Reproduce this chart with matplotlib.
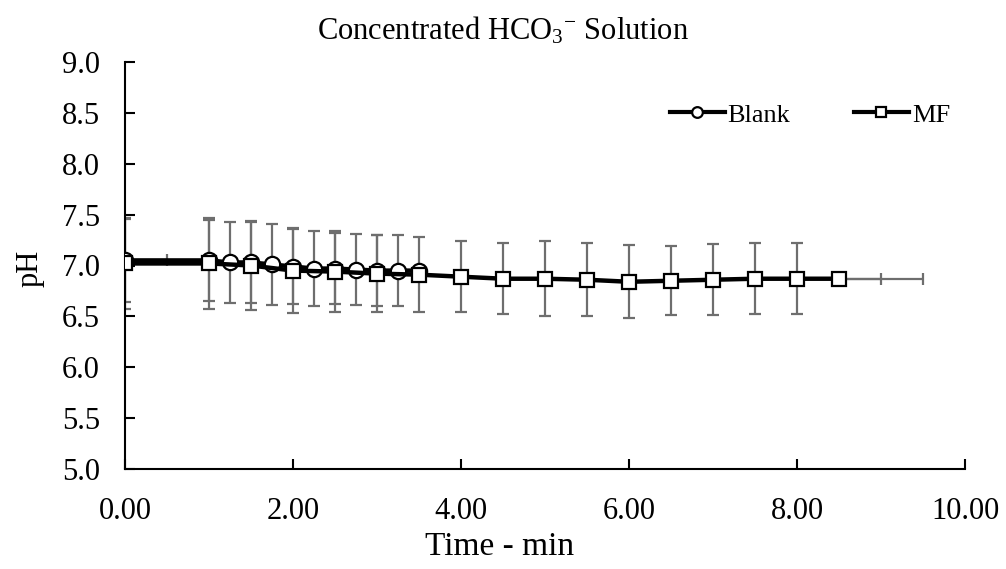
import matplotlib
matplotlib.use("Agg")
import matplotlib.pyplot as plt
import numpy as np

plt.rcParams['font.family'] = ['Liberation Serif', 'DejaVu Serif']
plt.rcParams['mathtext.fontset'] = 'custom'
plt.rcParams['mathtext.rm'] = 'Liberation Serif'
plt.rcParams['mathtext.it'] = 'Liberation Serif:italic'

title = "Concentrated HCO$_{3}{}^{\\mathregular{-}}$ Solution"
xlabel = "Time - min"
ylabel = "pH"

blank_x = [0, 1.0, 1.25, 1.5, 1.75, 2.0, 2.25, 2.5, 2.75, 3.0, 3.25, 3.5]
blank_y = [7.05, 7.05, 7.03, 7.03, 7.01, 6.99, 6.97, 6.97, 6.96, 6.95, 6.95, 6.95]
blank_err = [0.41, 0.40, 0.40, 0.40, 0.40, 0.37, 0.37, 0.35, 0.35, 0.35, 0.35, 0.0]

mf_x = [0, 1.0, 1.5, 2.0, 2.5, 3.0, 3.5, 4.0, 4.5, 5.0, 5.5, 6.0, 6.5, 7.0, 7.5, 8.0, 8.5]
mf_y = [7.02, 7.02, 7.00, 6.95, 6.94, 6.92, 6.91, 6.89, 6.87, 6.87, 6.86, 6.84, 6.85, 6.86, 6.87, 6.87, 6.87]
mf_err = [0.45, 0.45, 0.44, 0.42, 0.40, 0.38, 0.37, 0.35, 0.35, 0.37, 0.36, 0.36, 0.34, 0.35, 0.35, 0.35, 0.0]

# horizontal error bars (first and last points)
hx_first = 0.5
hx_last = [0.5, 1.0]

xticks = [0, 2, 4, 6, 8, 10]
yticks = [5.0, 5.5, 6.0, 6.5, 7.0, 7.5, 8.0, 8.5, 9.0]

fig = plt.figure(figsize=(10.06, 5.69), dpi=100)
ax = fig.add_axes([125/1006, 1-469/569, 840/1006, 407/569])

ecol = '#6e6e6e'
ekw = dict(fmt='none', ecolor=ecol, elinewidth=1.6, capsize=4.3, capthick=1.6, zorder=2)
ax.errorbar(blank_x, blank_y, yerr=blank_err, **ekw)
ax.errorbar(mf_x, mf_y, yerr=mf_err, **ekw)
ax.errorbar([blank_x[0]], [blank_y[0]], xerr=[[0], [hx_first]], **ekw)
for e in hx_last:
    ax.errorbar([mf_x[-1]], [mf_y[-1]], xerr=[[0], [e]], **ekw)

ax.plot(blank_x, blank_y, color='black', lw=3.2, marker='o', markersize=11,
        markerfacecolor='white', markeredgecolor='black', markeredgewidth=1.6,
        label='Blank', zorder=4)
ax.plot(mf_x, mf_y, color='black', lw=3.2, marker='s', markersize=10,
        markerfacecolor='white', markeredgecolor='black', markeredgewidth=1.6,
        label='MF', zorder=5)

ax.set_xlim(0, 10)
ax.set_ylim(5.0, 9.0)
ax.set_xticks(xticks)
ax.set_xticklabels([f"{v:.2f}" for v in xticks])
ax.set_yticks(yticks)
ax.set_yticklabels([f"{v:.1f}" for v in yticks])

for s in ['top', 'right']:
    ax.spines[s].set_visible(False)
for s in ['left', 'bottom']:
    ax.spines[s].set_linewidth(1.5)
    ax.spines[s].set_color('black')
ax.tick_params(axis='both', direction='in', length=7, width=1.5, labelsize=22)
ax.tick_params(axis='y', pad=18)
ax.tick_params(axis='x', pad=20)

fig.text(503/1006, 1-31/569, title, fontsize=22, ha='center', va='center')
fig.text(500/1006, 1-547/569, xlabel, fontsize=24, ha='center', va='center')
fig.text(30/1006, 1-268/569, ylabel, fontsize=22, ha='center', va='center', rotation=90)

leg = ax.legend(loc='center right', bbox_to_anchor=((950-125)/840, (469-115)/407), ncol=2,
                frameon=False, borderaxespad=0, borderpad=0,
                fontsize=19, markerscale=0.7, handlelength=2.1, handletextpad=0.1,
                columnspacing=2.4)
for h in leg.legend_handles:
    h.set_linewidth(3)

fig.savefig("out.png", dpi=100)
